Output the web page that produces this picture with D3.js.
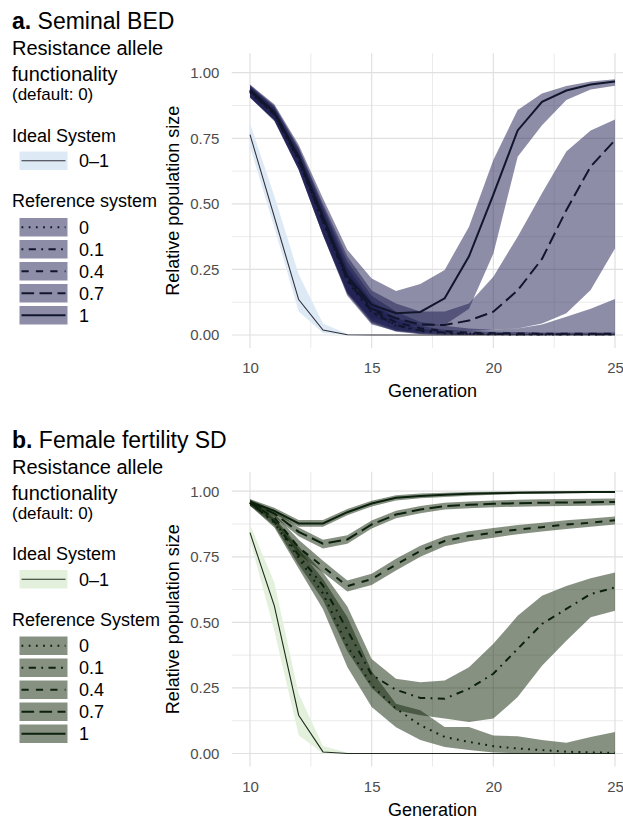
<!DOCTYPE html>
<html><head><meta charset="utf-8">
<script src="https://cdn.jsdelivr.net/npm/d3@7"></script>
<style>
body{margin:0;background:#fff}
svg{display:block}
text{font-family:"Liberation Sans",Arial,Helvetica,sans-serif}
</style>
</head><body>
<svg id="chart" width="623" height="819"></svg>
<script>
// ---------- data ----------
const generations = [10,11,12,13,14,15,16,17,18,19,20,21,22,23,24,25];
const levels = ["0","0.1","0.4","0.7","1"];
const xTicks = [10,15,20,25];
const yTicks = [0,0.25,0.5,0.75,1];

// Panel a: Seminal BED
const semIdealMean = [0.764,0.45,0.135,0.019,0.001,0,0,0,0,0,0,0,0,0,0,0];
const semIdealLow  = [0.718,0.41,0.09,0.008,0,0,0,0,0,0,0,0,0,0,0,0];
const semIdealHigh = [0.807,0.53,0.232,0.044,0.004,0.001,0,0,0,0,0,0,0,0,0,0];
const semMean = [
  [0.925,0.84,0.665,0.43,0.205,0.085,0.035,0.015,0.007,0.004,0.003,0.002,0.002,0.002,0.002,0.002],
  [0.928,0.842,0.668,0.435,0.21,0.088,0.038,0.018,0.009,0.005,0.004,0.003,0.003,0.003,0.003,0.003],
  [0.93,0.845,0.672,0.44,0.215,0.095,0.048,0.026,0.014,0.009,0.007,0.006,0.005,0.005,0.005,0.005],
  [0.932,0.848,0.676,0.445,0.22,0.10,0.064,0.04,0.038,0.055,0.089,0.17,0.29,0.476,0.642,0.743],
  [0.935,0.85,0.68,0.45,0.225,0.116,0.083,0.088,0.14,0.30,0.535,0.78,0.889,0.932,0.955,0.966]
];
const semLow = [
  [0.905,0.82,0.64,0.39,0.165,0.055,0.02,0.006,0.002,0.001,0,0,0,0,0,0],
  [0.905,0.82,0.635,0.385,0.16,0.05,0.015,0.004,0.001,0,0,0,0,0,0,0],
  [0.905,0.815,0.63,0.38,0.155,0.045,0.012,0.003,0,0,0,0,0,0,0,0],
  [0.908,0.82,0.63,0.38,0.15,0.04,0.015,0.01,0.01,0.015,0.02,0.025,0.044,0.083,0.172,0.33],
  [0.91,0.82,0.63,0.38,0.16,0.065,0.044,0.032,0.038,0.10,0.31,0.68,0.80,0.896,0.936,0.95]
];
const semHigh = [
  [0.945,0.86,0.69,0.47,0.25,0.12,0.055,0.025,0.012,0.007,0.005,0.004,0.004,0.004,0.004,0.004],
  [0.948,0.865,0.70,0.48,0.26,0.13,0.065,0.035,0.02,0.015,0.012,0.011,0.01,0.01,0.01,0.01],
  [0.95,0.87,0.71,0.49,0.28,0.15,0.09,0.05,0.035,0.025,0.02,0.025,0.04,0.07,0.10,0.137],
  [0.953,0.875,0.715,0.50,0.30,0.17,0.12,0.09,0.09,0.12,0.222,0.375,0.54,0.70,0.78,0.822],
  [0.955,0.88,0.725,0.52,0.325,0.215,0.168,0.194,0.248,0.413,0.667,0.858,0.921,0.949,0.966,0.975]
];

// Panel b: Female fertility SD
const ffIdealMean = [0.842,0.563,0.146,0.006,0,0,0,0,0,0,0,0,0,0,0,0];
const ffIdealLow  = [0.815,0.468,0.07,0,0,0,0,0,0,0,0,0,0,0,0,0];
const ffIdealHigh = [0.873,0.652,0.228,0.029,0.003,0,0,0,0,0,0,0,0,0,0,0];
const ffMean = [
  [0.955,0.88,0.745,0.61,0.41,0.26,0.171,0.108,0.063,0.044,0.028,0.019,0.013,0.007,0.004,0.003],
  [0.955,0.885,0.755,0.64,0.47,0.30,0.243,0.212,0.209,0.247,0.304,0.399,0.494,0.551,0.608,0.633],
  [0.955,0.90,0.785,0.712,0.638,0.665,0.72,0.772,0.81,0.829,0.842,0.854,0.863,0.873,0.88,0.889],
  [0.958,0.915,0.845,0.80,0.816,0.873,0.911,0.93,0.943,0.948,0.952,0.954,0.956,0.957,0.958,0.959],
  [0.96,0.925,0.877,0.877,0.92,0.953,0.975,0.982,0.986,0.99,0.992,0.994,0.995,0.996,0.997,0.997]
];
const ffLow = [
  [0.945,0.862,0.705,0.55,0.33,0.177,0.10,0.051,0.025,0.013,0.004,0.001,0,0,0,0],
  [0.945,0.868,0.72,0.585,0.39,0.25,0.165,0.146,0.133,0.12,0.133,0.215,0.335,0.43,0.519,0.544],
  [0.945,0.885,0.76,0.69,0.618,0.642,0.698,0.75,0.79,0.809,0.823,0.836,0.846,0.856,0.864,0.873],
  [0.948,0.902,0.828,0.782,0.80,0.858,0.897,0.916,0.93,0.935,0.939,0.941,0.943,0.944,0.945,0.946],
  [0.95,0.913,0.864,0.864,0.908,0.942,0.965,0.973,0.978,0.983,0.986,0.989,0.99,0.992,0.993,0.994]
];
const ffHigh = [
  [0.965,0.895,0.78,0.665,0.52,0.315,0.19,0.165,0.101,0.101,0.069,0.066,0.051,0.041,0.063,0.082],
  [0.965,0.90,0.79,0.69,0.56,0.36,0.285,0.272,0.278,0.329,0.418,0.525,0.601,0.639,0.668,0.69],
  [0.965,0.915,0.815,0.735,0.66,0.685,0.742,0.792,0.828,0.847,0.86,0.871,0.88,0.889,0.896,0.904],
  [0.968,0.928,0.862,0.815,0.832,0.888,0.925,0.944,0.956,0.961,0.965,0.967,0.969,0.97,0.971,0.972],
  [0.97,0.937,0.89,0.89,0.932,0.964,0.985,0.991,0.994,0.997,0.998,0.999,1,1,1,1]
];

// ---------- styles ----------
const u = 1.8;
const dashFor = {"0":[u,3*u],"0.1":[u,3*u,4*u,3*u],"0.4":[4*u,4*u],"0.7":[7*u,3*u],"1":null};

const panels = [
  {tag:"a.", title:"Seminal BED", refTitle:"Reference system", dy:0,
   mean:semMean, lo:semLow, hi:semHigh, iMean:semIdealMean, iLo:semIdealLow, iHi:semIdealHigh,
   fill:"rgb(28,28,80)", line:"#12162c", idealFill:"#ddeaf6", idealLine:"#30303a"},
  {tag:"b.", title:"Female fertility SD", refTitle:"Reference System", dy:418.5,
   mean:ffMean, lo:ffLow, hi:ffHigh, iMean:ffIdealMean, iLo:ffIdealLow, iHi:ffIdealHigh,
   fill:"rgb(15,36,6)", line:"#0b200d", idealFill:"#e3f1dc", idealLine:"#1e2b1e"}
];

const svg = d3.select("#chart");
const x = d3.scaleLinear().domain([10,25]).range([250,615]);

panels.forEach(p => {
  const g = svg.append("g").attr("transform", `translate(0,${p.dy})`);
  const y = d3.scaleLinear().domain([0,1]).range([335,72.7]);
  const top = y(1.074), bottom = y(-0.05), left = x(9.25), right = x(25.75);

  // grid
  const grid = g.append("g");
  const xMinor = xTicks.slice(1).map((t,i)=> (t + xTicks[i])/2);
  const yMinor = yTicks.slice(1).map((t,i)=> (t + yTicks[i])/2);
  yMinor.forEach(v => grid.append("line").attr("x1",left).attr("x2",right).attr("y1",y(v)).attr("y2",y(v)).attr("stroke","#e6e6e6").attr("stroke-width",0.8));
  xMinor.forEach(v => grid.append("line").attr("x1",x(v)).attr("x2",x(v)).attr("y1",top).attr("y2",bottom).attr("stroke","#e6e6e6").attr("stroke-width",0.8));
  yTicks.forEach(v => grid.append("line").attr("x1",left).attr("x2",right).attr("y1",y(v)).attr("y2",y(v)).attr("stroke","#e0e0e0").attr("stroke-width",1.2));
  xTicks.forEach(v => grid.append("line").attr("x1",x(v)).attr("x2",x(v)).attr("y1",top).attr("y2",bottom).attr("stroke","#e0e0e0").attr("stroke-width",1.2));

  const area = (lo, hi) => d3.area().x((d,i)=>x(generations[i])).y0((d,i)=>y(lo[i])).y1((d,i)=>y(hi[i]))(generations);
  const line = (m) => d3.line().x((d,i)=>x(generations[i])).y((d,i)=>y(m[i]))(generations);

  // ribbons
  g.append("path").attr("d", area(p.iLo, p.iHi)).attr("fill", p.idealFill);
  levels.forEach((lv, k) => {
    g.append("path").attr("d", area(p.lo[k], p.hi[k])).attr("fill", p.fill).attr("fill-opacity", 0.5);
  });
  // lines
  g.append("path").attr("d", line(p.iMean)).attr("fill","none").attr("stroke",p.idealLine).attr("stroke-width",1.1);
  levels.forEach((lv, k) => {
    g.append("path").attr("d", line(p.mean[k])).attr("fill","none").attr("stroke",p.line)
      .attr("stroke-width",2).attr("stroke-dasharray", dashFor[lv] ? dashFor[lv].join(",") : null);
  });

  // axes
  const yAxis = g.append("g").attr("transform",`translate(${left},0)`)
    .call(d3.axisLeft(y).tickValues(yTicks).tickFormat(d3.format(".2f")).tickSize(0).tickPadding(12.4));
  yAxis.select(".domain").remove();
  yAxis.attr("font-size",15).attr("font-family",null).attr("color","#4d4d4d");
  const xAxis = g.append("g").attr("transform",`translate(0,${bottom})`)
    .call(d3.axisBottom(x).tickValues(xTicks).tickFormat(d3.format("d")).tickSize(0).tickPadding(14.5));
  xAxis.select(".domain").remove();
  xAxis.attr("font-size",15).attr("font-family",null).attr("color","#4d4d4d");

  g.append("text").attr("x",(left+right)/2).attr("y",397.3).attr("text-anchor","middle")
    .attr("font-size",18).text("Generation");
  g.append("text").attr("transform",`translate(178.5,${(top+bottom)/2}) rotate(-90)`)
    .attr("text-anchor","middle").attr("font-size",18).text("Relative population size");

  // title
  const t = g.append("text").attr("x",12).attr("y",29).attr("font-size",23);
  t.append("tspan").attr("font-weight","bold").text(p.tag);
  t.append("tspan").text(" " + p.title);

  // legend
  g.append("text").attr("x",12).attr("y",55).attr("font-size",20).text("Resistance allele");
  g.append("text").attr("x",12).attr("y",81).attr("font-size",20).text("functionality");
  g.append("text").attr("x",12).attr("y",100).attr("font-size",17).text("(default: 0)");
  g.append("text").attr("x",12).attr("y",141.7).attr("font-size",18).text("Ideal System");
  g.append("rect").attr("x",19.5).attr("y",151.5).attr("width",48).attr("height",18.5).attr("fill",p.idealFill);
  g.append("line").attr("x1",21.5).attr("x2",65.5).attr("y1",160.75).attr("y2",160.75).attr("stroke",p.idealLine).attr("stroke-width",1.1);
  g.append("text").attr("x",79).attr("y",167).attr("font-size",18).text("0\u20131");
  g.append("text").attr("x",12).attr("y",207.3).attr("font-size",18).text(p.refTitle);
  levels.forEach((lv,k) => {
    const ty = 218 + k*22;
    g.append("rect").attr("x",19.5).attr("y",ty).attr("width",48).attr("height",18.5).attr("fill",p.fill).attr("fill-opacity",0.5);
    g.append("line").attr("x1",21.5).attr("x2",65.5).attr("y1",ty+9.25).attr("y2",ty+9.25).attr("stroke",p.line)
      .attr("stroke-width",2).attr("stroke-dasharray", dashFor[lv] ? dashFor[lv].join(",") : null);
    g.append("text").attr("x",79).attr("y",ty+15.6).attr("font-size",18).text(lv);
  });
});
</script>
</body></html>
